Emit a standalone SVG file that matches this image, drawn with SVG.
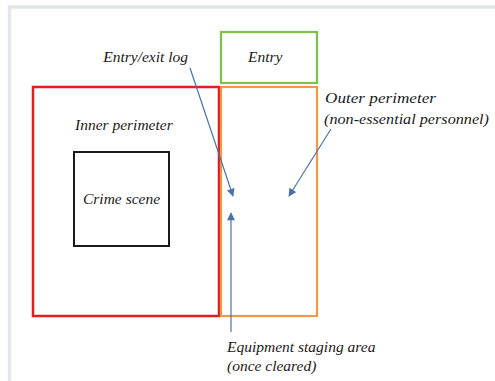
<svg xmlns="http://www.w3.org/2000/svg" width="495" height="381" viewBox="0 0 495 381">
<style>
text{font-family:'Liberation Serif','DejaVu Serif',serif;font-style:italic;font-size:15.5px;fill:#1a1a1a}
.c{stroke:#4a72aa;stroke-width:1.2;fill:none;marker-end:url(#ah)}
</style>
<defs>
<marker id="ah" viewBox="0 0 10 10" refX="9" refY="5" markerWidth="9" markerHeight="8" markerUnits="userSpaceOnUse" orient="auto">
<path d="M0,0 L10,5 L0,10 z" fill="#4a72aa"/>
</marker>
</defs>
<rect width="495" height="381" fill="#ffffff"/>
<polyline points="9.5,381 9.5,7 495,7" fill="none" stroke="#e3e6ea" stroke-width="3.5"/>
<g id="inner-perimeter">
<rect x="33" y="87" width="186" height="229" fill="none" stroke="#e21d1d" stroke-width="2.5"/>
<text x="75" y="130">Inner perimeter</text>
</g>
<g id="outer-perimeter">
<rect x="221" y="87" width="96" height="229" fill="none" stroke="#f0974a" stroke-width="2.2"/>
</g>
<g id="entry">
<rect x="221" y="32" width="96" height="51" fill="none" stroke="#7cc04a" stroke-width="2.2"/>
<text x="248" y="62">Entry</text>
</g>
<g id="crime-scene">
<rect x="74" y="152" width="95" height="94" fill="none" stroke="#1a1a1a" stroke-width="2"/>
<text x="83" y="204">Crime scene</text>
</g>
<g id="label-log"><text x="188" y="62" text-anchor="end">Entry/exit log</text></g>
<g id="label-outer">
<text x="325" y="103" textLength="111" lengthAdjust="spacingAndGlyphs">Outer perimeter</text>
<text x="324" y="124" textLength="165" lengthAdjust="spacingAndGlyphs">(non-essential personnel)</text>
</g>
<g id="label-staging">
<text x="227" y="352">Equipment staging area</text>
<text x="227" y="371">(once cleared)</text>
</g>
<g id="connectors">
<line class="c" x1="190" y1="68" x2="233" y2="196"/>
<line class="c" x1="331" y1="129" x2="289" y2="196"/>
<line class="c" x1="231" y1="332" x2="231" y2="213"/>
</g>
</svg>
